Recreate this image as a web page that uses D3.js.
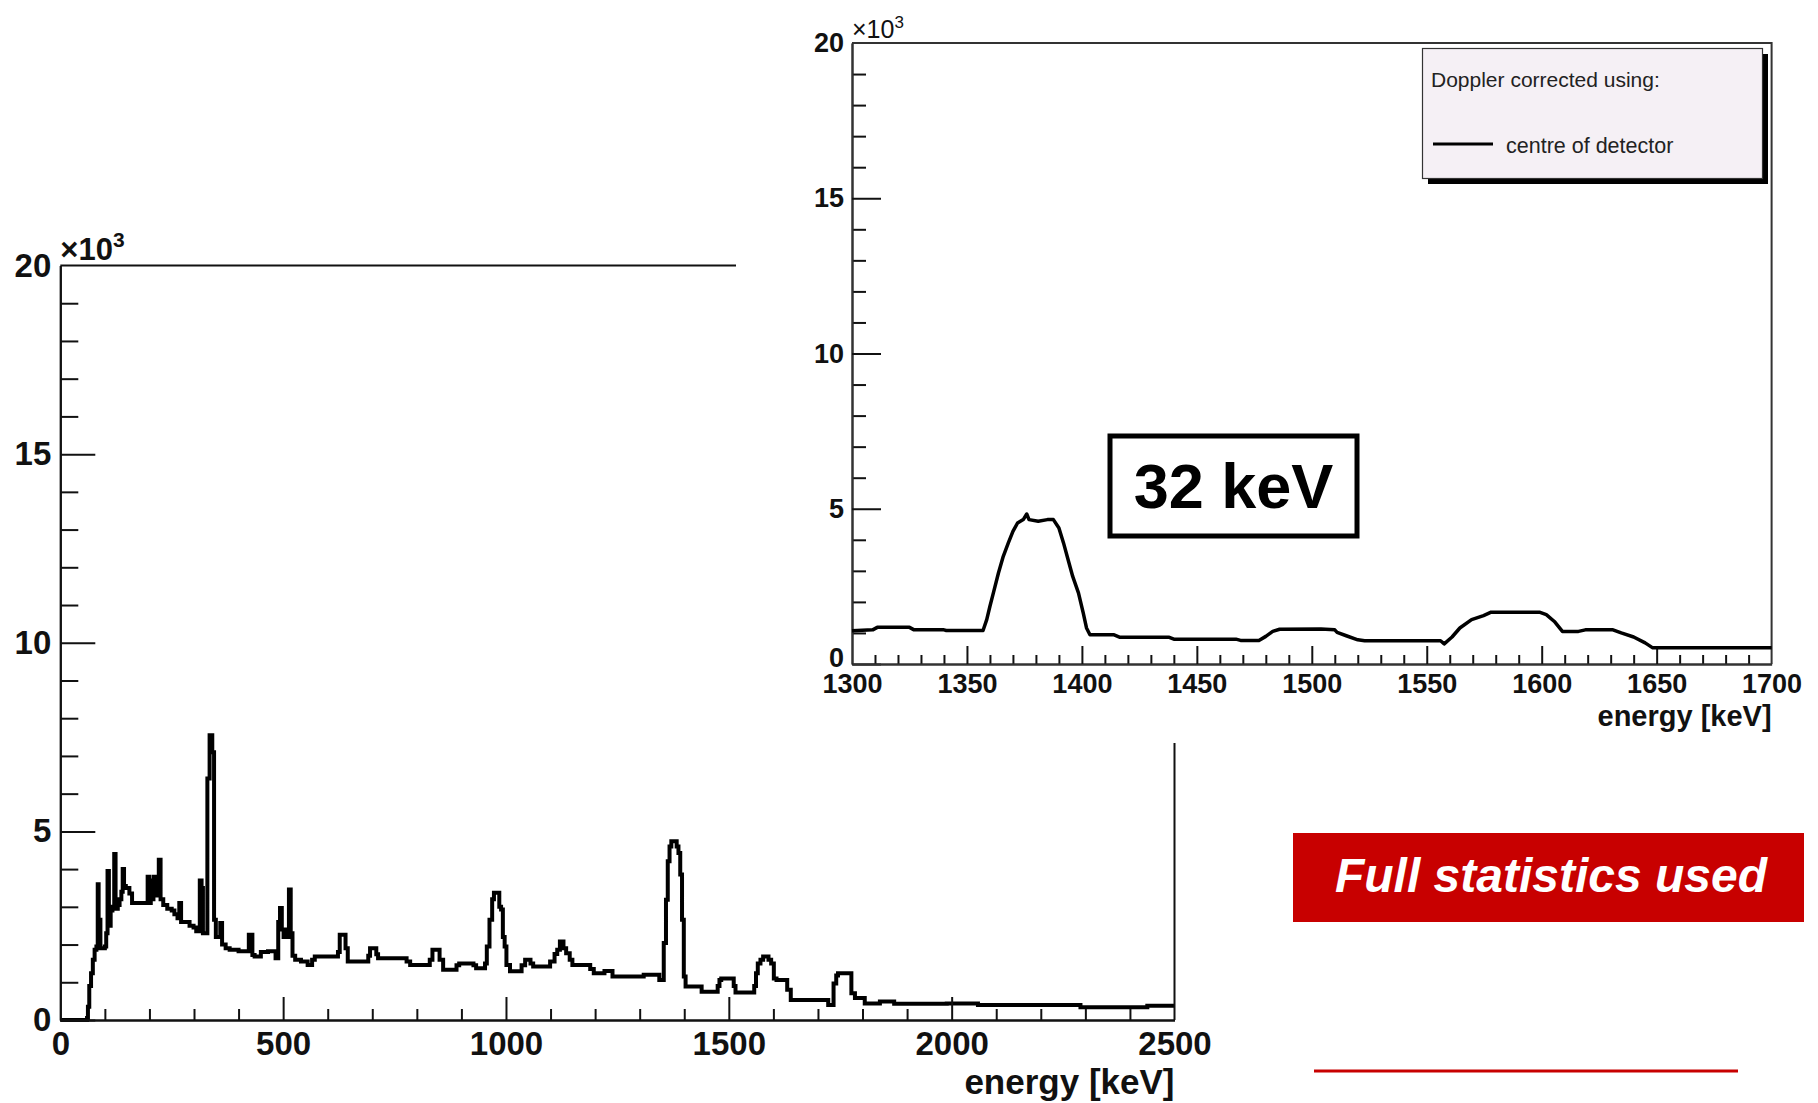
<!DOCTYPE html>
<html><head><meta charset="utf-8">
<script src="https://cdn.jsdelivr.net/npm/d3@7"></script>
<style>body{margin:0;background:#fff}svg{display:block}text{font-family:"Liberation Sans",Arial,Helvetica,sans-serif}</style>
</head><body><svg id="c" width="1818" height="1103"></svg>
<script>
// ---- data (energy in keV, counts in units of 10^3) ----
const mainSpectrum = [
[0,0],[60,0.05],[62,0.35],[65,0.9],[69,1.24],[73,1.6],[77,1.86],[81,1.95],[84,3.6],[86,1.95],[88,2.66],[90,1.9],[100,1.95],[103,2.3],[106,3.95],[109,2.5],[113,2.9],[117,3.0],[121,4.4],[124,2.95],[129,3.05],[133,3.2],[137,3.4],[140,4.0],[143,3.55],[147,3.5],[155,3.35],[161,3.1],[196,3.8],[199,3.1],[203,3.7],[206,3.2],[209,3.8],[213,3.3],[217,3.45],[221,4.25],[225,3.2],[231,3.05],[240,2.95],[250,2.9],[256,2.8],[263,2.7],[267,3.1],[271,2.6],[290,2.5],[299,2.45],[305,2.35],[313,3.7],[317,3.5],[320,2.3],[326,2.3],[330,6.4],[335,7.55],[341,7.1],[345,2.66],[349,2.2],[359,2.57],[363,2.0],[371,1.9],[380,1.86],[400,1.82],[423,2.26],[431,1.72],[436,1.68],[450,1.8],[466,1.82],[483,1.64],[489,2.6],[493,2.97],[497,2.4],[501,2.2],[505,2.4],[509,2.2],[513,3.46],[517,2.3],[521,1.7],[527,1.6],[540,1.55],[555,1.46],[565,1.6],[571,1.68],[605,1.68],[623,1.8],[627,2.26],[640,1.9],[645,1.55],[691,1.7],[695,1.9],[709,1.74],[713,1.64],[777,1.55],[785,1.46],[829,1.6],[835,1.86],[851,1.6],[859,1.33],[889,1.45],[895,1.5],[927,1.45],[933,1.37],[953,1.5],[957,1.95],[963,2.66],[969,3.2],[973,3.37],[985,3.0],[989,2.93],[993,2.2],[997,1.95],[1001,1.46],[1009,1.29],[1035,1.45],[1043,1.6],[1055,1.5],[1061,1.42],[1099,1.55],[1109,1.75],[1115,1.86],[1121,2.08],[1129,1.9],[1135,1.77],[1143,1.6],[1149,1.46],[1189,1.35],[1197,1.24],[1221,1.3],[1239,1.15],[1309,1.2],[1344,1.06],[1354,2.04],[1359,3.19],[1363,4.21],[1367,4.6],[1371,4.74],[1383,4.6],[1387,4.43],[1391,3.86],[1395,2.66],[1399,1.15],[1403,0.89],[1439,0.75],[1475,0.9],[1479,1.06],[1483,1.1],[1511,0.9],[1515,0.73],[1557,0.9],[1561,1.24],[1565,1.5],[1571,1.6],[1577,1.68],[1589,1.6],[1595,1.5],[1601,1.1],[1607,1.06],[1631,0.8],[1639,0.53],[1723,0.4],[1735,0.97],[1741,1.18],[1745,1.24],[1775,0.71],[1783,0.58],[1805,0.44],[1839,0.49],[1871,0.43],[1989,0.44],[2059,0.4],[2289,0.34],[2439,0.38],[2500,0.38]
];
const insetSpectrum = [
[1300,1.07],[1309,1.1],[1311,1.18],[1325,1.18],[1327,1.1],[1340,1.1],[1341,1.08],[1357,1.08],[1358.6,1.43],[1360,1.86],[1361.5,2.29],[1363.7,2.93],[1365.8,3.47],[1368,3.9],[1370,4.27],[1372,4.54],[1374.5,4.65],[1376,4.83],[1377,4.65],[1381,4.6],[1385,4.65],[1387.6,4.65],[1390,4.38],[1392,3.9],[1394,3.36],[1396,2.82],[1398.5,2.29],[1400.6,1.64],[1402,1.16],[1403.5,0.94],[1414,0.94],[1416.6,0.86],[1438,0.86],[1440,0.8],[1467,0.8],[1469,0.76],[1477,0.76],[1480,0.89],[1483,1.05],[1486,1.12],[1504,1.13],[1510,1.1],[1511,1.02],[1515,0.91],[1520,0.78],[1523,0.75],[1556,0.75],[1557.6,0.65],[1561,0.87],[1564.4,1.16],[1569.5,1.43],[1574.7,1.56],[1578,1.67],[1599,1.67],[1602,1.59],[1605.5,1.37],[1609,1.05],[1616,1.05],[1619,1.1],[1631,1.1],[1634.6,1.0],[1640,0.87],[1645,0.68],[1648.3,0.52],[1700,0.52]
];
const mainXTicks = [0,500,1000,1500,2000,2500];
const mainYTicks = [0,5,10,15,20];
const insetXTicks = [1300,1350,1400,1450,1500,1550,1600,1650,1700];
const insetYTicks = [0,5,10,15,20];
const axisTitle = "energy [keV]";
const legendTitle = "Doppler corrected using:";
const legendEntry = "centre of detector";
const annotationText = "32 keV";
const bannerText = "Full statistics used";

const svg = d3.select("#c");
const ink = "#111";

function minorTicks(lo, hi, step, majors){
  const out=[]; for(let v=lo; v<=hi+1e-9; v+=step){ const r=Math.round(v*1000)/1000; if(!majors.includes(r)) out.push(r);} return out;
}
function styleAxis(g, fs){
  g.selectAll(".domain").attr("stroke", ink).attr("stroke-width", 2);
  g.selectAll(".tick line").attr("stroke", ink).attr("stroke-width", 2);
  g.selectAll(".tick text").attr("fill", ink).attr("font-size", fs).attr("font-weight", "bold")
    .style("font-family", '"Liberation Sans", Arial, sans-serif');
}

// ---------------- main histogram ----------------
const mx = d3.scaleLinear().domain([0,2500]).range([60.3,1174.5]);
const my = d3.scaleLinear().domain([0,20]).range([1020,265.5]);
const main = svg.append("g");

main.append("path").datum(mainSpectrum)
  .attr("fill","none").attr("stroke","#000").attr("stroke-width",4).attr("stroke-linejoin","miter")
  .attr("d", d3.line().x(d=>mx(d[0])).y(d=>my(d[1])).curve(d3.curveStepAfter));

// frame top and right
main.append("path").attr("fill","none").attr("stroke",ink).attr("stroke-width",2)
  .attr("d", `M${mx(0)},${my(20)}H${mx(2500)}V${my(0)}`);

const myMinor = main.append("g").attr("transform",`translate(${mx(0)},0)`)
  .call(d3.axisLeft(my).tickValues(minorTicks(0,20,1,mainYTicks)).tickSize(-18).tickSizeOuter(0).tickFormat(""));
styleAxis(myMinor, 33);
const myMajor = main.append("g").attr("transform",`translate(${mx(0)},0)`)
  .call(d3.axisLeft(my).tickValues(mainYTicks).tickSize(-35).tickSizeOuter(0).tickPadding(9).tickFormat(d3.format("d")));
styleAxis(myMajor, 33);
myMajor.selectAll(".tick").filter(d=>d===20).select("line").remove();

const mxMinor = main.append("g").attr("transform",`translate(0,${my(0)})`)
  .call(d3.axisBottom(mx).tickValues(minorTicks(0,2500,100,mainXTicks)).tickSize(-11).tickSizeOuter(0).tickFormat(""));
styleAxis(mxMinor, 33);
const mxMajor = main.append("g").attr("transform",`translate(0,${my(0)})`)
  .call(d3.axisBottom(mx).tickValues(mainXTicks).tickSize(-23).tickSizeOuter(0).tickPadding(12).tickFormat(d3.format("d")));
styleAxis(mxMajor, 33);
mxMajor.selectAll(".tick").filter(d=>d===0||d===2500).select("line").remove();

main.append("text").attr("x", mx(2500)).attr("y", 1094).attr("text-anchor","end")
  .attr("font-size",35).attr("font-weight","bold").attr("fill",ink).text(axisTitle);

const mexp = main.append("text").attr("x", mx(0)).attr("y", 260).attr("font-size",31).attr("font-weight","bold").attr("fill",ink);
mexp.append("tspan").text("×10");
mexp.append("tspan").attr("font-size",21).attr("dy",-13).text("3");

// ---------------- inset pad ----------------
svg.append("rect").attr("x",736).attr("y",0).attr("width",1082).attr("height",743).attr("fill","#fff");

const ix = d3.scaleLinear().domain([1300,1700]).range([852,1771.6]);
const iy = d3.scaleLinear().domain([0,20]).range([664,43]);
const inset = svg.append("g");

inset.append("path").attr("fill","none").attr("stroke","#333").attr("stroke-width",2)
  .attr("d", `M${ix(1300)},${iy(20)}H${ix(1700)}V${iy(0)}`);

const iyMinor = inset.append("g").attr("transform",`translate(${ix(1300)},0)`)
  .call(d3.axisLeft(iy).tickValues(minorTicks(0,20,1,insetYTicks)).tickSize(-14).tickSizeOuter(0).tickFormat(""));
styleAxis(iyMinor, 27);
const iyMajor = inset.append("g").attr("transform",`translate(${ix(1300)},0)`)
  .call(d3.axisLeft(iy).tickValues(insetYTicks).tickSize(-29).tickSizeOuter(0).tickPadding(8).tickFormat(d3.format("d")));
styleAxis(iyMajor, 27);
iyMajor.selectAll(".tick").filter(d=>d===20).select("line").remove();
iyMajor.selectAll(".tick").filter(d=>d===0).select("text").attr("dy","0.1em");

const ixMinor = inset.append("g").attr("transform",`translate(0,${iy(0)})`)
  .call(d3.axisBottom(ix).tickValues(minorTicks(1300,1700,10,insetXTicks)).tickSize(-9).tickSizeOuter(0).tickFormat(""));
styleAxis(ixMinor, 27);
const ixMajor = inset.append("g").attr("transform",`translate(0,${iy(0)})`)
  .call(d3.axisBottom(ix).tickValues(insetXTicks).tickSize(-18).tickSizeOuter(0).tickPadding(10).tickFormat(d3.format("d")));
styleAxis(ixMajor, 27);
ixMajor.selectAll(".tick").filter(d=>d===1300||d===1700).select("line").remove();
[iyMinor,iyMajor,ixMinor,ixMajor].forEach(g=>g.selectAll(".domain").attr("stroke","#333"));

inset.append("path").datum(insetSpectrum)
  .attr("fill","none").attr("stroke","#000").attr("stroke-width",3.5).attr("stroke-linejoin","round")
  .attr("d", d3.line().x(d=>ix(d[0])).y(d=>iy(d[1])));

inset.append("text").attr("x", ix(1700)).attr("y", 726).attr("text-anchor","end")
  .attr("font-size",29).attr("font-weight","bold").attr("fill",ink).text(axisTitle);

const iexp = inset.append("text").attr("x", ix(1300)).attr("y", 38).attr("font-size",25).attr("fill",ink);
iexp.append("tspan").text("×10");
iexp.append("tspan").attr("font-size",17).attr("dy",-10).text("3");

// legend
const lg = inset.append("g");
lg.append("rect").attr("x",1428).attr("y",54).attr("width",340).attr("height",130).attr("fill","#000");
lg.append("rect").attr("x",1422.5).attr("y",48.5).attr("width",340).attr("height",130)
  .attr("fill","#f5f0f5").attr("stroke","#333").attr("stroke-width",1.2);
lg.append("text").attr("x",1431).attr("y",87).attr("font-size",21).attr("fill","#222").text(legendTitle);
lg.append("line").attr("x1",1433).attr("x2",1493).attr("y1",144).attr("y2",144).attr("stroke","#000").attr("stroke-width",3);
lg.append("text").attr("x",1506).attr("y",153).attr("font-size",21.5).attr("fill","#222").text(legendEntry);

// annotation box
svg.append("rect").attr("x",1110).attr("y",436).attr("width",247).attr("height",100)
  .attr("fill","#fff").attr("stroke","#000").attr("stroke-width",5);
svg.append("text").attr("x",1233.5).attr("y",508).attr("text-anchor","middle")
  .attr("font-size",63).attr("font-weight","bold").attr("fill","#000").text(annotationText);

// red banner
svg.append("rect").attr("x",1293).attr("y",833).attr("width",511).attr("height",89).attr("fill","#c80000");
svg.append("text").attr("x",1551).attr("y",892).attr("text-anchor","middle")
  .attr("font-size",48).attr("font-weight","bold").attr("font-style","italic").attr("fill","#fff").text(bannerText);
svg.append("line").attr("x1",1314).attr("x2",1738).attr("y1",1071).attr("y2",1071).attr("stroke","#c80000").attr("stroke-width",3);
</script></body></html>
